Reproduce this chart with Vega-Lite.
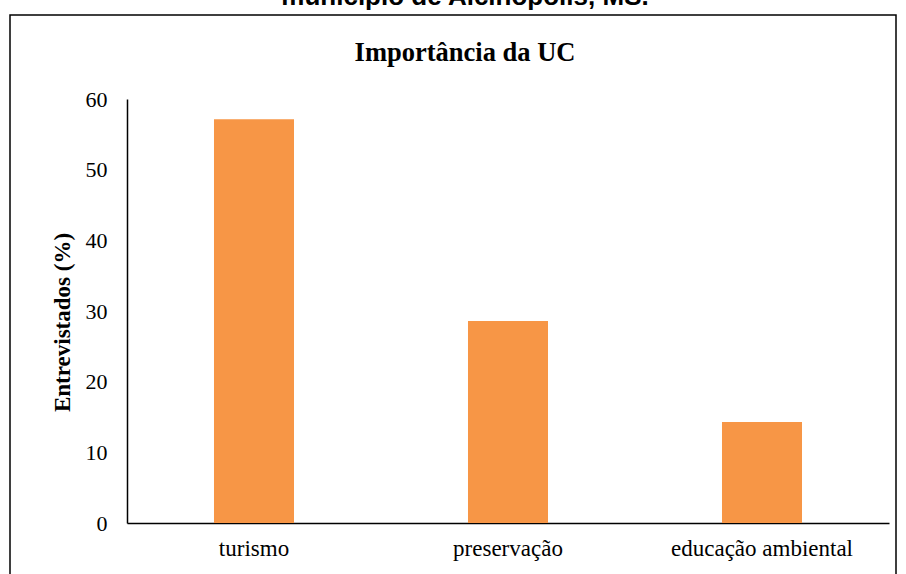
{
  "$schema": "https://vega.github.io/schema/vega-lite/v6.json",
  "autosize": {"type": "none"},
  "width": 886,
  "height": 600,
  "padding": {"left": 10, "top": 15, "right": 10, "bottom": 0},
  "background": "white",
  "title": {
    "text": "município de Alcinópolis, MS.",
    "subtitle": "Importância da UC",
    "anchor": "middle",
    "orient": "top",
    "dx": 12,
    "offset": -51,
    "font": "Liberation Sans",
    "fontSize": 26,
    "fontWeight": "bold",
    "color": "#000000",
    "subtitleFont": "Liberation Serif",
    "subtitleFontSize": 26.5,
    "subtitleFontWeight": "bold",
    "subtitleColor": "#000000",
    "subtitlePadding": 30
  },
  "data": {
    "values": [
      {"categoria": "turismo", "valor": 57.14},
      {"categoria": "preservação", "valor": 28.57},
      {"categoria": "educação ambiental", "valor": 14.29}
    ]
  },
  "mark": {"type": "bar", "color": "#F79646"},
  "encoding": {
    "x": {
      "field": "categoria",
      "type": "nominal",
      "sort": null,
      "scale": {"range": [117, 879], "paddingInner": 0.685, "paddingOuter": 0.3425},
      "axis": {
        "title": null,
        "orient": "bottom",
        "offset": -92,
        "labelAngle": 0,
        "ticks": false,
        "domainColor": "#000000",
        "domainWidth": 1.5,
        "labelFont": "Liberation Serif",
        "labelFontSize": 23,
        "labelColor": "#000000",
        "labelPadding": 14,
        "labelLimit": 400,
        "grid": false
      }
    },
    "y": {
      "field": "valor",
      "type": "quantitative",
      "scale": {"domain": [0, 60], "range": [508, 84], "nice": false},
      "axis": {
        "title": "Entrevistados (%)",
        "orient": "left",
        "offset": -117,
        "values": [0, 10, 20, 30, 40, 50, 60],
        "ticks": false,
        "grid": false,
        "domainColor": "#000000",
        "domainWidth": 1.5,
        "labelFont": "Liberation Serif",
        "labelFontSize": 22,
        "labelColor": "#000000",
        "labelPadding": 20,
        "titleFont": "Liberation Serif",
        "titleFontSize": 23,
        "titleFontWeight": "bold",
        "titleColor": "#000000",
        "titlePadding": 11,
        "titleY": 307
      }
    }
  },
  "config": {
    "view": {"stroke": "#000000", "strokeWidth": 1.5}
  }
}
